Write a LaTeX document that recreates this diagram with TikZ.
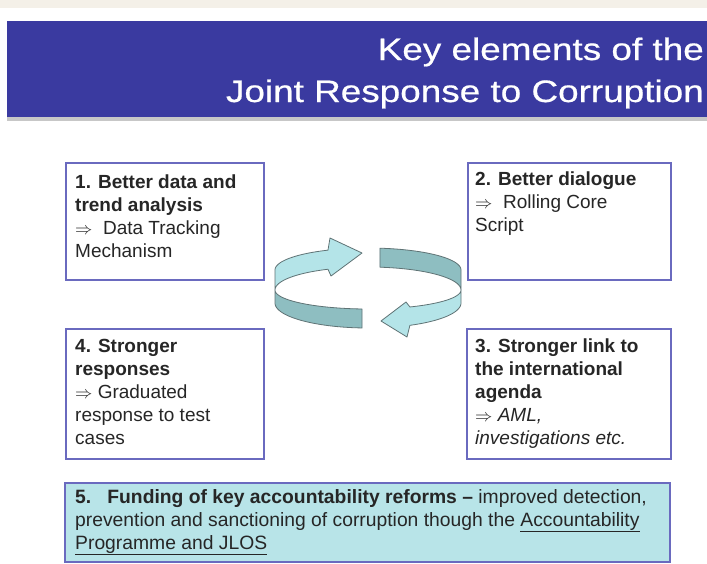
\documentclass[tikz,border=0pt]{standalone}
\usepackage{fontspec}
\setmainfont{Liberation Sans}
\newfontfamily\titlefont[FakeStretch=1.19,FakeBold=0.6]{Liberation Sans}
\definecolor{bannerblue}{HTML}{3A3AA0}
\definecolor{boxline}{HTML}{6A6ABF}
\definecolor{lightcy}{HTML}{B4E4E8}
\definecolor{boxfive}{HTML}{B8E4E8}
\definecolor{darkcy}{HTML}{8EBEC1}
\definecolor{ringline}{HTML}{5F7375}
\definecolor{beigestrip}{HTML}{F4F0E8}
\definecolor{txt}{HTML}{262626}
\begin{document}
\begin{tikzpicture}[x=1pt,y=-1pt,
  panel/.style={draw=boxline,line width=2pt,fill=white,anchor=north west,inner sep=0pt},
  body/.style={anchor=base west,align=left,inner sep=0pt,font=\fontsize{19}{23}\selectfont,text=txt},
  ring/.style={draw=ringline,line width=0.8pt,line join=round}]
\useasboundingbox (0,0) rectangle (707,563);
\fill[white] (0,0) rectangle (707,563);
\fill[beigestrip] (0,0) rectangle (707,8);
\fill[black!22] (7,117) rectangle (707,121);
\node[fill=bannerblue,anchor=north west,inner sep=0pt,minimum width=700pt,minimum height=96pt] (banner) at (7,21) {};
\node[anchor=base east,align=right,inner sep=0pt,text=white,font=\titlefont\fontsize{31}{42}\selectfont] (title) at (704,102) {Key elements of the\\Joint Response to Corruption};
% boxes
\node[panel,minimum width=198pt,minimum height=117pt] (b1) at (65,162) {};
\node[panel,minimum width=203pt,minimum height=117pt] (b2) at (467,162) {};
\node[panel,minimum width=198pt,minimum height=130pt] (b4) at (65,328) {};
\node[panel,minimum width=204pt,minimum height=130pt] (b3) at (466,328) {};
\node[panel,fill=boxfive,minimum width=605pt,minimum height=79pt] (b5) at (64,482) {};
% texts (base anchor = baseline of the last line)
\node[body] (t1) at (75,257) {\textbf{1. Better data and}\\\textbf{trend analysis}\\$\Rightarrow$\ \ Data Tracking\\Mechanism};
\node[body] (t2) at (475,231) {\textbf{2. Better dialogue}\\$\Rightarrow$\ \ Rolling Core\\Script};
\node[body] (t4) at (75,444) {\textbf{4. Stronger}\\\textbf{responses}\\$\Rightarrow$ Graduated\\response to test\\cases};
\node[body] (t3) at (475,444) {\textbf{3. Stronger link to}\\\textbf{the international}\\\textbf{agenda}\\$\Rightarrow$ \textit{AML,}\\\textit{investigations etc.}};
\node[body,font=\fontsize{19.3}{23}\selectfont] (t5) at (75,549) {\textbf{5.\ \ \ Funding of key accountability reforms –} improved detection,\\prevention and sanctioning of corruption though the \underline{Accountability}\\\underline{Programme and JLOS}};
% cycle arrows
\draw[ring,fill=lightcy] plot[domain=115.5:180,samples=40] ({368+93*cos(\x)},{270-22*sin(\x)})
  -- plot[domain=180:115.5,samples=40] ({368+93*cos(\x)},{290-23*sin(\x)})
  -- (331,276) -- (362,253) -- (330,238) -- cycle;
\draw[ring,fill=darkcy] plot[domain=180:266.3,samples=40] ({368+93*cos(\x)},{290-19*sin(\x)})
  -- plot[domain=266.3:180,samples=40] ({368+93*cos(\x)},{303-25*sin(\x)}) -- cycle;
\draw[ring,fill=darkcy] plot[domain=82.6:0,samples=40] ({368+93*cos(\x)},{270-22*sin(\x)})
  -- plot[domain=0:82.6,samples=40] ({368+93*cos(\x)},{290-23*sin(\x)}) -- cycle;
\draw[ring,fill=lightcy] plot[domain=0:-63.2,samples=40] ({368+93*cos(\x)},{290-19*sin(\x)})
  -- (406,302) -- (381,321) -- (407,337)
  -- plot[domain=-63.2:0,samples=40] ({368+93*cos(\x)},{303-25*sin(\x)}) -- cycle;
\end{tikzpicture}
\end{document}
